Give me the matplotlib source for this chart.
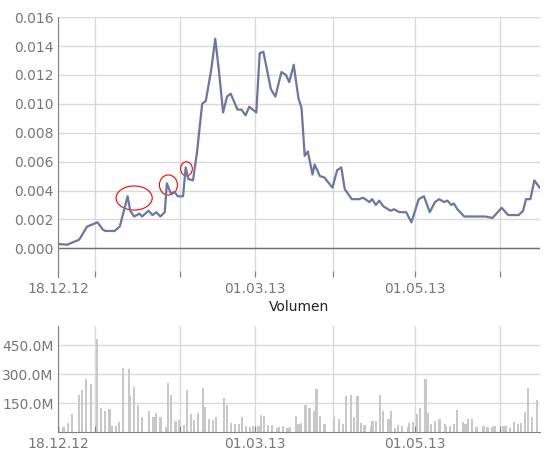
import matplotlib.pyplot as plt
from matplotlib.patches import Ellipse

# days since 16.12.12 (approx)
price_days = [0, 3.4, 8, 11, 15, 17, 18, 21.5, 23.5, 26.5, 27.5, 29, 31, 32, 34.5, 36, 37.5, 39,
              40.7, 41.5, 43, 44.4, 45.7, 47.7, 48.7, 49.7, 51.5, 53, 55, 56.4, 58.5, 60, 61.4,
              63, 64.5, 65.9, 68.5, 70, 71.6, 73, 75.7, 77, 78.4, 81.3, 83, 85.3, 87, 88.3, 90,
              91.8, 93, 94.2, 95.4, 97.2, 98, 100, 101.7, 104.8, 106.6, 108.2, 109.5, 112.2,
              114.9, 116.5, 119, 120, 121.4, 122.7, 124.3, 127, 128.4, 130.4, 133, 135, 137.8,
              139.8, 142, 144, 145.6, 147.5, 148.8, 150.2, 151.2, 152.6, 155.2, 158.6, 163.3,
              166, 169.5, 172, 176, 177.7, 178.8, 180.5, 182, 184]
price = [0.0003, 0.00025, 0.0006, 0.0015, 0.0018, 0.0013, 0.0012, 0.0012, 0.0015, 0.0036, 0.0026,
         0.0022, 0.0024, 0.0022, 0.0026, 0.0023, 0.0025, 0.0022, 0.0025, 0.0045, 0.0038, 0.0039,
         0.0036, 0.0036, 0.0056, 0.0048, 0.0047, 0.0066, 0.0100, 0.0102, 0.0124, 0.0145, 0.0123,
         0.0094, 0.0105, 0.0107, 0.0096, 0.0096, 0.0092, 0.0098, 0.0094, 0.0135, 0.0136, 0.0110,
         0.0105, 0.0122, 0.0120, 0.0115, 0.0127, 0.0104, 0.0097, 0.0064, 0.0067, 0.0051, 0.0058,
         0.0050, 0.0049, 0.0042, 0.0054, 0.0056, 0.0041, 0.0034, 0.0034, 0.0035, 0.0032, 0.0034,
         0.0030, 0.0033, 0.0029, 0.0026, 0.0027, 0.0025, 0.0025, 0.0018, 0.0034, 0.0036, 0.0025,
         0.0032, 0.0034, 0.0032, 0.0033, 0.0030, 0.0031, 0.0027, 0.0022, 0.0022, 0.0022, 0.0021,
         0.0028, 0.0023, 0.0023, 0.0026, 0.0034, 0.0034, 0.0047, 0.0042]

vol_days = [0.4, 2.0, 3.6, 5.1, 7.8, 9.0, 10.7, 12.4, 14.8, 16.3, 17.9, 19.6, 20.5, 22.1, 23.2,
            24.7, 26.9, 27.4, 29.0, 30.5, 32.1, 34.7, 36.4, 37.5, 39.1, 41.3, 41.8, 43.2, 44.8,
            46.0, 48.0, 49.1, 50.6, 51.8, 53.3, 55.3, 55.9, 57.5, 59.1, 60.2, 63.3, 64.4, 66.0,
            67.6, 69.2, 70.2, 71.8, 73.4, 74.4, 76.5, 77.6, 78.7, 80.3, 81.8, 83.8, 84.5, 86.0,
            87.6, 88.7, 90.8, 91.8, 92.8, 94.5, 96.0, 97.7, 98.7, 100.1, 101.8, 105.5, 107.2,
            108.8, 110.1, 111.9, 113.0, 114.4, 115.7, 117.1, 119.7, 120.1, 121.6, 122.9, 124.0,
            126.2, 127.3, 128.7, 129.8, 131.4, 133.6, 134.1, 135.6, 137.2, 138.3, 140.4, 141.4,
            142.5, 144.1, 145.7, 147.8, 148.3, 149.9, 151.4, 152.5, 154.7, 155.7, 156.7, 158.3,
            159.9, 162.6, 164.1, 165.7, 166.8, 169.9, 171.0, 172.6, 174.2, 175.8, 176.8, 178.4,
            179.5, 181.0, 183.1]
volume = [24, 24, 48, 95, 194, 220, 272, 251, 484, 123, 111, 118, 29, 33, 54, 329, 324, 189, 234,
          142, 76, 111, 76, 100, 80, 28, 256, 194, 59, 64, 35, 220, 95, 61, 100, 230, 131, 69, 64,
          80, 178, 142, 48, 43, 43, 76, 33, 24, 29, 29, 88, 85, 38, 38, 19, 24, 33, 19, 24, 85, 43,
          48, 142, 123, 111, 225, 85, 43, 80, 69, 43, 185, 194, 80, 189, 48, 38, 33, 59, 59, 194,
          111, 69, 111, 19, 38, 33, 24, 48, 54, 95, 126, 272, 100, 43, 59, 69, 43, 33, 33, 43, 116,
          54, 43, 69, 69, 24, 29, 24, 24, 33, 33, 29, 19, 54, 43, 48, 105, 230, 80, 168]

grid_days = [0, 13.9, 46.6, 75.2, 105, 136.2, 168.7]
tick_labels = ['18.12.12', '', '', '01.03.13', '', '01.05.13', '']
price_ticks = [0.0, 0.002, 0.004, 0.006, 0.008, 0.010, 0.012, 0.014, 0.016]
vol_ticks = [150, 300, 450]

# highlighted spikes: (day, value, width, height)
marks = [(29.0, 0.00348, 13.8, 0.00167), (42.1, 0.00438, 6.9, 0.00139), (49.0, 0.0055, 4.5, 0.00097)]

gray = '#808080'
fig = plt.figure(figsize=(5.5, 4.5), dpi=100)
ax = fig.add_axes([0.106, 0.384, 0.876, 0.578])
ax2 = fig.add_axes([0.106, 0.04, 0.876, 0.236])

for a in (ax, ax2):
    for s in ('top', 'right'):
        a.spines[s].set_visible(False)
    a.spines['left'].set_color(gray)
    a.set_xlim(0, 184.2)
    a.set_xticks(grid_days)
    a.set_xticklabels(tick_labels)
    a.grid(True, color='#d9d9d9', linewidth=1)
    a.set_axisbelow(True)
    a.tick_params(colors=gray, labelcolor='#777777', labelsize=10, length=4, direction='in')
    a.tick_params(axis='y', length=0)

ax.spines['bottom'].set_visible(False)
ax.axhline(0, color='#707070', linewidth=1)
ax.plot(price_days, price, color='#6b77a3', linewidth=1.6)
ax.set_ylim(-0.002, 0.016)
ax.set_yticks(price_ticks)
ax.set_yticklabels(['%.3f' % v for v in price_ticks])
for d, v, w, h in marks:
    ax.add_patch(Ellipse((d, v), w, h, fill=False, edgecolor='red', linewidth=0.8))

ax2.spines['bottom'].set_color(gray)
ax2.bar(vol_days, volume, width=0.85, color='#c8c8c8')
ax2.set_ylim(0, 550)
ax2.set_yticks(vol_ticks)
ax2.set_yticklabels(['%.1fM' % v for v in vol_ticks])
ax2.set_title('Volumen', fontsize=10, color='#222222', pad=11)

fig.savefig('out.png')
